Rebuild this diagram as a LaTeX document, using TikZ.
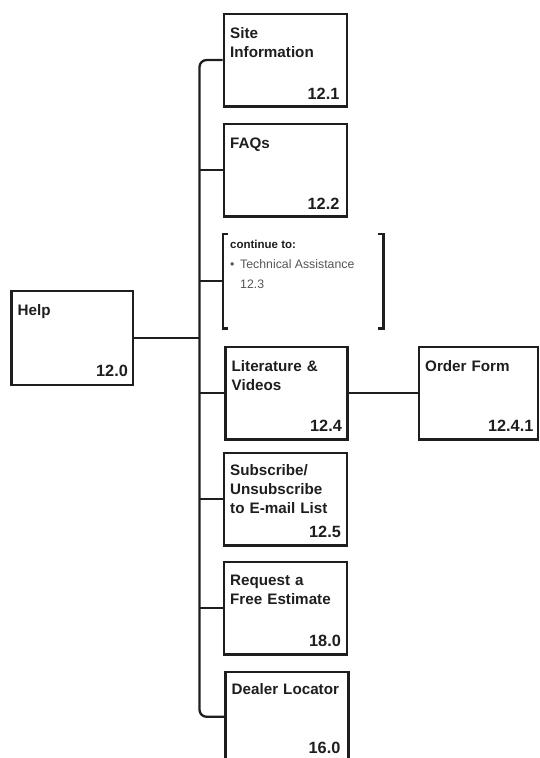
\documentclass[tikz,border=0pt]{standalone}
\usepackage{fontspec}
\setmainfont{Liberation Sans}
\usetikzlibrary{calc}
\definecolor{ink}{HTML}{1E1E1E}
\definecolor{greytext}{HTML}{555555}
\begin{document}
\begin{tikzpicture}[x=1pt,y=-1pt,
  box/.style={draw=ink,line width=2.6pt,rectangle,minimum width=123pt,minimum height=92.5pt,anchor=north west,inner sep=0pt},
  conn/.style={draw=ink,line width=2.3pt},
  title/.style={anchor=base west,inner sep=0pt,text width=118pt,align=left,font=\bfseries\fontsize{15.2}{19}\selectfont,text=ink},
  num/.style={anchor=base east,inner sep=0pt,font=\bfseries\fontsize{16.3}{19}\selectfont,text=ink},
  small/.style={anchor=base west,inner sep=0pt,font=\fontsize{12.3}{20}\selectfont,text=greytext},
  smallbold/.style={anchor=base west,inner sep=0pt,font=\bfseries\fontsize{11.5}{14}\selectfont,text=ink}]
\useasboundingbox (0,0) rectangle (539,758);
\clip (0,0) rectangle (539,758);

% boxes
\node[box] (site) at (222.5,12.5) {};
\node[title] (siteT) at ($(site.north west)+(7.5,25.5)$) {Site\\Information};
\node[num] (siteN) at ($(site.north east)+(-8.5,86.5)$) {12.1};

\node[box] (faq) at (222.5,122.5) {};
\node[title] (faqT) at ($(faq.north west)+(7.5,25.5)$) {FAQs};
\node[num] (faqN) at ($(faq.north east)+(-8.5,86.5)$) {12.2};

\node[box,minimum width=121.5pt,minimum height=94pt] (help) at (10,289.5) {};
\node[title] (helpT) at ($(help.north west)+(7.5,25.5)$) {Help};
\node[num] (helpN) at ($(help.north east)+(-6,86.5)$) {12.0};

\node[box,minimum width=122pt] (lit) at (224,345.5) {};
\node[title] (litT) at ($(lit.north west)+(7.5,25.5)$) {Literature \&\\Videos};
\node[num] (litN) at ($(lit.north east)+(-6.5,86)$) {12.4};

\node[box,minimum width=119pt] (order) at (417.5,345.5) {};
\node[title] (orderT) at ($(order.north west)+(7.5,25.5)$) {Order Form};
\node[num] (orderN) at ($(order.north east)+(-5.5,86)$) {12.4.1};

\node[box] (sub) at (222.5,451.5) {};
\node[title] (subT) at ($(sub.north west)+(7.5,24)$) {Subscribe/\\Unsubscribe\\to E-mail List};
\node[num] (subN) at ($(sub.north east)+(-7,85.5)$) {12.5};

\node[box] (req) at (222.5,560.5) {};
\node[title] (reqT) at ($(req.north west)+(7.5,25)$) {Request a\\Free Estimate};
\node[num] (reqN) at ($(req.north east)+(-7,86)$) {18.0};

\node[box] (dealer) at (224,670.5) {};
\node[title] (dealerT) at ($(dealer.north west)+(7.5,24)$) {Dealer Locator};
\node[num] (dealerN) at ($(dealer.north east)+(-9,82.5)$) {16.0};

% bracket note
\node[minimum width=160pt,minimum height=94pt,anchor=north west,inner sep=0pt] (cont) at (223,234) {};
\draw[conn] ($(cont.north west)+(5,0)$) -- (cont.north west) -- (cont.south west) -- ++(5,0);
\draw[conn] ($(cont.north east)+(-5,0)$) -- (cont.north east) -- (cont.south east) -- ++(-5,0);
\node[smallbold] (contT) at (230,248) {continue to:};
\node[small] (contB) at (230,268) {•};
\node[small] (contI) at (240,268) {Technical Assistance};
\node[small] (contN) at (240,288) {12.3};

% connectors
\coordinate (tbot) at (199.5,716.75);
\coordinate (dealerin) at ($(dealer.north west)+(0,46.25)$);
\draw[conn,rounded corners=7pt] (site.west) -| (tbot) -- (dealerin);
\draw[conn] (faq.west) -- (faq.west -| tbot);
\draw[conn] (cont.west) -- (cont.west -| tbot);
\draw[conn] (help.east) -- (help.east -| tbot);
\draw[conn] (lit.west) -- (lit.west -| tbot);
\draw[conn] (lit.east) -- (order.west);
\draw[conn] (sub.west) -- (sub.west -| tbot);
\draw[conn] (req.west) -- (req.west -| tbot);
\end{tikzpicture}
\end{document}
